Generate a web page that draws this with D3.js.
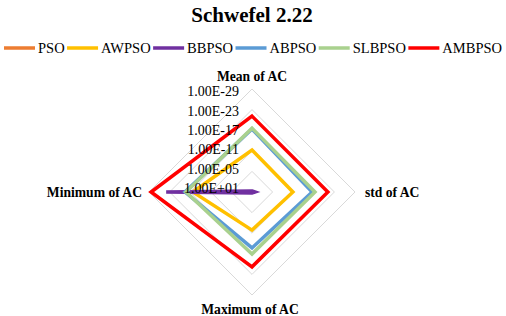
<!DOCTYPE html>
<html>
<head>
<meta charset="utf-8">
<script src="https://cdn.jsdelivr.net/npm/d3@7"></script>
<style>
  body { margin: 0; background: #fff; }
  svg text { fill: #000; }
  .title { font-size: 21px; font-weight: bold; }
  .axisLabel { font-size: 13.6px; font-weight: bold; }
  .tick { font-size: 14px; }
  .legend text { font-size: 14.5px; }
</style>
</head>
<body>
<div id="chart"></div>
<script>
var w = 506;
var h = 316;

var axes = ["Mean of AC", "std of AC", "Maximum of AC", "Minimum of AC"];
var seriesNames = ["PSO", "AWPSO", "BBPSO", "ABPSO", "SLBPSO", "AMBPSO"];
var colors = ["#ED7D31", "#FFC000", "#7030A0", "#5B9BD5", "#A9D18E", "#FF0000"];
var tickValues = [1e1, 1e-5, 1e-11, 1e-17, 1e-23, 1e-29];
var tickLabels = ["1.00E+01", "1.00E-05", "1.00E-11", "1.00E-17", "1.00E-23", "1.00E-29"];

// mean, std, max, min for each algorithm
var PSO = [2.0e1, 1.5e1, 3.0e1, 1.0e1];
var AWPSO = [6e-12, 1.2e-11, 8e-11, 6e-17];
var BBPSO = [5, 1.3, 5, 1e-24];
var ABPSO = [4.5e-18, 3e-17, 5e-16, 3e-19];
var SLBPSO = [2.5e-18, 4.5e-18, 8.7e-18, 6e-19];
var AMBPSO = [8e-22, 8e-22, 1.6e-21, 4e-29];

var allSeries = [PSO, AWPSO, BBPSO, ABPSO, SLBPSO, AMBPSO];

var cx = 252, cy = 192, radius = 103;

var svg = d3.select("#chart").append("svg")
    .attr("width", w).attr("height", h)
    .attr("font-family", "'Liberation Serif', 'Times New Roman', serif");

var rScale = d3.scaleLog()
    .domain([1e1, 1e-29])
    .range([0, radius])
    .clamp(true);

var angle = d3.scalePoint()
    .domain(axes)
    .range([0, 2 * Math.PI * 3 / 4]);

function pointAt(axisName, value) {
    var a = angle(axisName);
    var r = rScale(value);
    return [cx + r * Math.sin(a), cy - r * Math.cos(a)];
}

// ***** grid rings *****
svg.append("g").selectAll("polygon")
    .data(tickValues.slice(1))
    .enter().append("polygon")
    .attr("points", function (t) {
        return axes.map(function (ax) { return pointAt(ax, t).join(","); }).join(" ");
    })
    .attr("fill", "none")
    .attr("stroke", "#d9d9d9")
    .attr("stroke-width", 1);

// ***** series *****
var line = d3.line().curve(d3.curveLinearClosed);

svg.append("g").selectAll("path")
    .data(allSeries)
    .enter().append("path")
    .attr("d", function (s) {
        return line(axes.map(function (ax, i) { return pointAt(ax, s[i]); }));
    })
    .attr("fill", "none")
    .attr("stroke", function (s, i) { return colors[i]; })
    .attr("stroke-width", 3.5)
    .attr("stroke-linejoin", "miter");

// ***** tick labels *****
svg.append("g").selectAll("text")
    .data(tickValues)
    .enter().append("text")
    .attr("class", "tick")
    .attr("x", cx - 13)
    .attr("y", function (t) { return cy - 0.94 * rScale(t) + 1; })
    .attr("text-anchor", "end")
    .text(function (t, i) { return tickLabels[i]; });

// ***** axis labels *****
var labelPos = [
    { x: cx, y: 81, anchor: "middle" },
    { x: 365, y: 197, anchor: "start" },
    { x: cx - 2, y: 314, anchor: "middle" },
    { x: 142, y: 197, anchor: "end" }
];
svg.append("g").selectAll("text")
    .data(axes)
    .enter().append("text")
    .attr("class", "axisLabel")
    .attr("x", function (d, i) { return labelPos[i].x; })
    .attr("y", function (d, i) { return labelPos[i].y; })
    .attr("text-anchor", function (d, i) { return labelPos[i].anchor; })
    .text(function (d) { return d; });

// ***** title *****
svg.append("text")
    .attr("class", "title")
    .attr("x", cx)
    .attr("y", 22)
    .attr("text-anchor", "middle")
    .text("Schwefel 2.22");

// ***** legend *****
// items spread between x = 4 and x = 502
var legend = svg.append("g").attr("class", "legend");
var items = seriesNames.map(function (name, i) {
    var g = legend.append("g");
    g.append("line")
        .attr("x1", 0).attr("x2", 31)
        .attr("y1", 0).attr("y2", 0)
        .attr("stroke", colors[i])
        .attr("stroke-width", 3.5);
    var t = g.append("text")
        .attr("x", 34)
        .attr("y", 5)
        .text(name);
    return { g: g, width: 34 + t.node().getComputedTextLength() };
});
var total = d3.sum(items, function (d) { return d.width; });
var gap = (498 - total) / (items.length - 1);
var lx = 4;
items.forEach(function (d) {
    d.g.attr("transform", "translate(" + lx + ",48)");
    lx += d.width + gap;
});
</script>
</body>
</html>
